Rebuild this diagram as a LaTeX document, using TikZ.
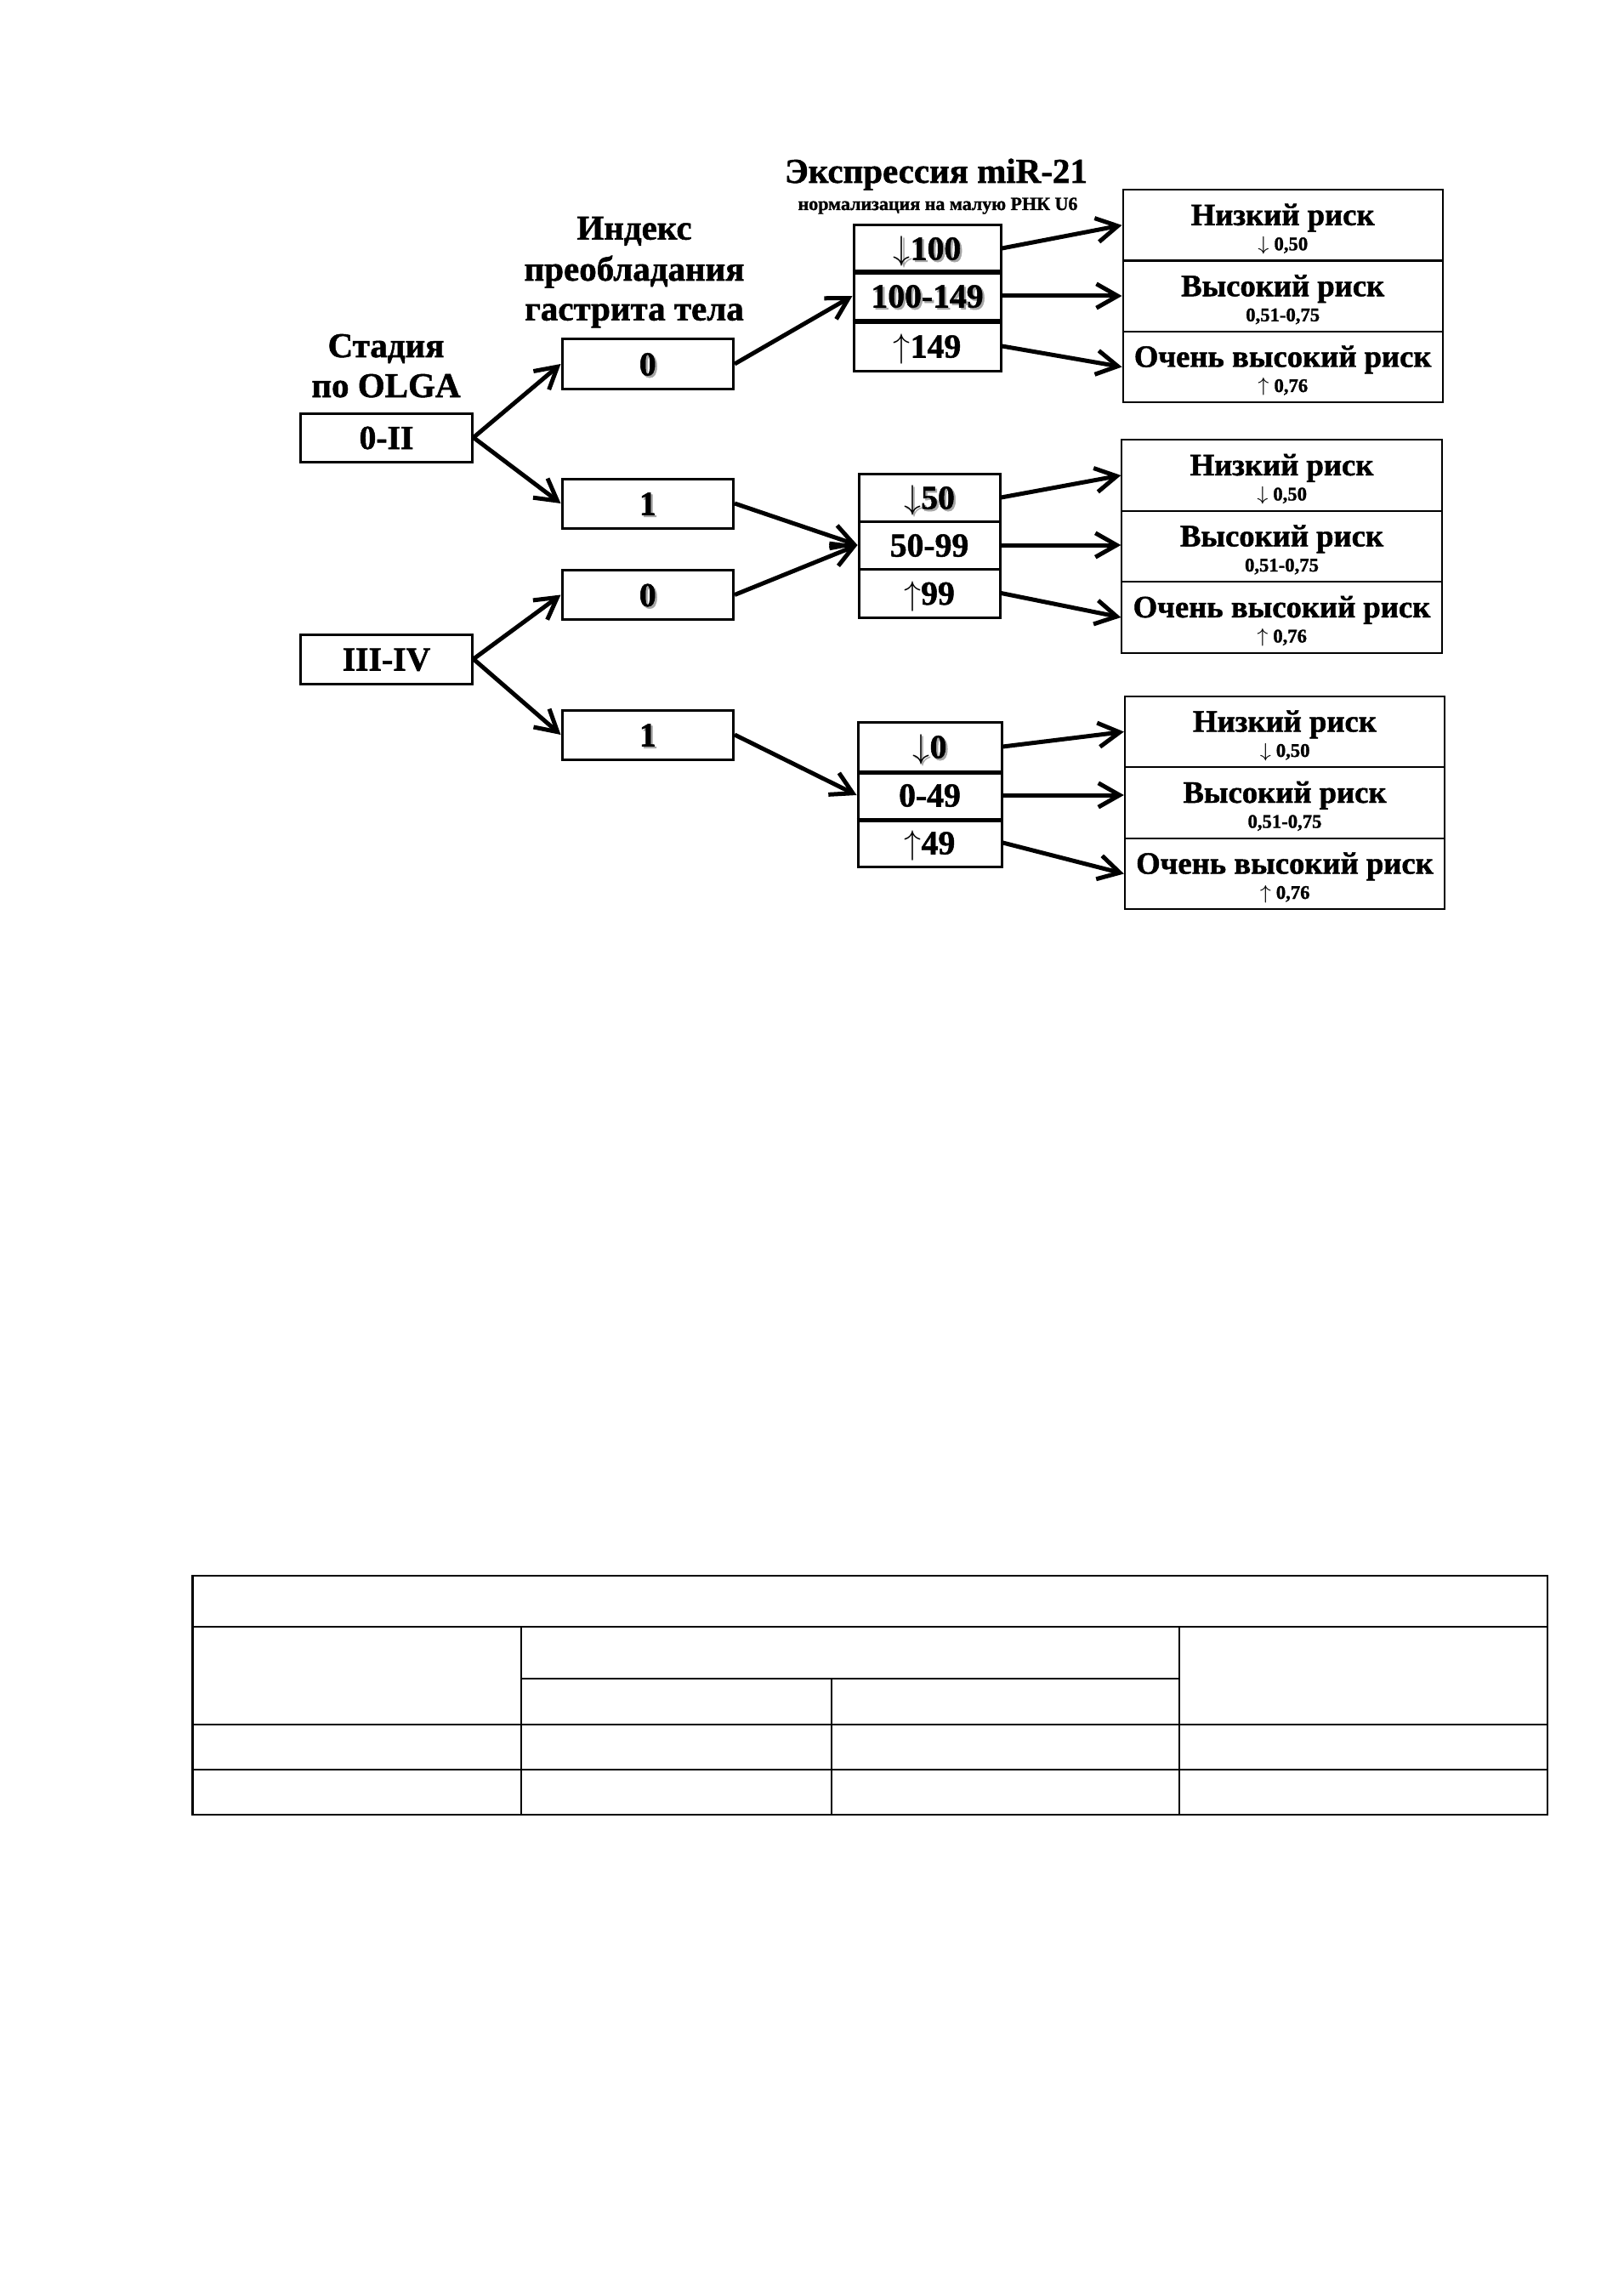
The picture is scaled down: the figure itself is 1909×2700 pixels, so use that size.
\documentclass[tikz,border=0pt]{standalone}
\usepackage{fontspec}
\setmainfont{Liberation Serif}[BoldFeatures={FakeBold=1.3}]
\usetikzlibrary{arrows.meta}
\newcommand{\sh}[1]{\makebox[0pt][l]{\hspace*{0.7pt}\raisebox{-0.7pt}{\textcolor{black!35}{#1}}}#1}
\newcommand{\dn}{$\downarrow$}
\newcommand{\upa}{$\uparrow$}
\begin{document}
\begin{tikzpicture}[x=0.3pt,y=-0.3pt,
  hdr/.style={font=\fontsize{12.3}{14}\selectfont\bfseries, inner sep=0pt, anchor=base},
  subhdr/.style={font=\fontsize{6.6}{8}\selectfont\bfseries, inner sep=0pt, anchor=base},
  lvl/.style={draw, line width=0.9pt, inner sep=0pt, text height=8.1pt, text depth=0pt,
    font=\fontsize{11.9}{13}\selectfont\bfseries},
  riskbox/.style={draw, line width=0.6pt, inner sep=0pt, minimum width=112.9pt, minimum height=25.1pt},
  riskmain/.style={font=\fontsize{11}{13}\selectfont\bfseries, inner sep=0pt, anchor=base},
  risksmall/.style={font=\fontsize{6.8}{8}\selectfont\bfseries, inner sep=0pt, anchor=base},
  arr/.style={-{Straight Barb[length=7.5pt,width=8.5pt]}, line width=1.5pt},
  thicksep/.style={line width=1.6pt},
  tabh/.style={line width=0.75pt},
  tabv/.style={line width=0.55pt},
]
\useasboundingbox (0,0) rectangle (1909,2700);

% headers
\node[hdr] (title) at (1101,215) {Экспрессия miR-21};
\node[subhdr] (subt) at (1103,247) {нормализация на малую РНК U6};
\node[hdr] (ix1) at (746,281.7) {Индекс};
\node[hdr] (ix2) at (746,330) {преобладания};
\node[hdr] (ix3) at (746,376.7) {гастрита тела};
\node[hdr] (st1) at (454,420) {Стадия};
\node[hdr] (st2) at (454,467) {по OLGA};

% stage boxes
\node[lvl, minimum width=60.5pt, minimum height=17.1pt] (s1) at (454.5,514.5) {0-II};
\node[lvl, minimum width=60.5pt, minimum height=17.4pt] (s2) at (454.5,775) {III-IV};

% index boxes
\node[lvl, minimum width=60.45pt, minimum height=17.4pt] (i1) at (761.75,428) {\sh{0}};
\node[lvl, minimum width=60.45pt, minimum height=17.4pt] (i2) at (761.75,592) {\sh{1}};
\node[lvl, minimum width=60.45pt, minimum height=17.4pt] (i3) at (761.75,699.5) {\sh{0}};
\node[lvl, minimum width=60.45pt, minimum height=17.4pt] (i4) at (761.75,864) {\sh{1}};

% expression stacks
\node[lvl, minimum width=51.9pt, minimum height=16.2pt] (a1) at (1090.5,292) {\sh{\dn100}};
\node[lvl, minimum width=51.9pt, minimum height=17.4pt] (a2) at (1090.5,348) {\sh{100-149}};
\node[lvl, minimum width=51.9pt, minimum height=18pt] (a3) at (1090.5,407) {\upa149};
\draw[thicksep] (a1.south west) -- (a1.south east);
\draw[thicksep] (a2.south west) -- (a2.south east);

\node[lvl, minimum width=49.8pt, minimum height=16.8pt] (b1) at (1093,585) {\sh{\dn50}};
\node[lvl, minimum width=49.8pt, minimum height=16.8pt] (b2) at (1093,641) {50-99};
\node[lvl, minimum width=49.8pt, minimum height=17.1pt] (b3) at (1093,697.5) {\upa99};

\node[lvl, minimum width=50.7pt, minimum height=17.4pt] (c1) at (1093.5,878) {\sh{\dn0}};
\node[lvl, minimum width=50.7pt, minimum height=16.8pt] (c2) at (1093.5,935) {0-49};
\node[lvl, minimum width=50.7pt, minimum height=16.8pt] (c3) at (1093.5,991) {\upa49};
\draw[thicksep] (c1.south west) -- (c1.south east);
\draw[thicksep] (c2.south west) -- (c2.south east);

% risk boxes
\foreach \g/\cx/\ya/\yb/\yc in {1/1508.7/264.8/348.3/431.5, 2/1507.5/559/642.5/726, 3/1511/860.5/944/1027.5}{
  \node[riskbox] (r\g1) at (\cx,\ya) {};
  \node[riskbox] (r\g2) at (\cx,\yb) {};
  \node[riskbox] (r\g3) at (\cx,\yc) {};
  \node[riskmain] (r\g1t) at (r\g1.center) {Низкий риск};
  \node[risksmall] (r\g1s) at ([yshift=-8.85pt]r\g1.center) {\dn\ 0,50};
  \node[riskmain] (r\g2t) at (r\g2.center) {Высокий риск};
  \node[risksmall] (r\g2s) at ([yshift=-8.85pt]r\g2.center) {0,51-0,75};
  \node[riskmain] (r\g3t) at (r\g3.center) {Очень высокий риск};
  \node[risksmall] (r\g3s) at ([yshift=-8.85pt]r\g3.center) {\upa\ 0,76};
}

% connectors
\draw[arr] (s1.east) -- (i1.west);
\draw[arr] (s1.east) -- (i2.west);
\draw[arr] (s2.east) -- (i3.west);
\draw[arr] (s2.east) -- (i4.west);
\draw[arr] (i1.east) -- (a2.west);
\draw[arr] (i2.east) -- (b2.west);
\draw[arr] (i3.east) -- (b2.west);
\draw[arr] (i4.east) -- (c2.west);
\draw[arr] (a1.east) -- (r11.west);
\draw[arr] (a2.east) -- (a2.east -| r12.west);
\draw[arr] (a3.east) -- (r13.west);
\draw[arr] (b1.east) -- (r21.west);
\draw[arr] (b2.east) -- (b2.east -| r22.west);
\draw[arr] (b3.east) -- (r23.west);
\draw[arr] (c1.east) -- (r31.west);
\draw[arr] (c2.east) -- (c2.east -| r32.west);
\draw[arr] (c3.east) -- (r33.west);

% empty table
\draw[tabh] (226.5,1853) rectangle (1820,2134);
\draw[tabh] (226.5,1913) -- (1820,1913);
\draw[tabh] (613,1974) -- (1387,1974);
\draw[tabh] (226.5,2028) -- (1820,2028);
\draw[tabh] (226.5,2081) -- (1820,2081);
\draw[tabv] (613,1913) -- (613,2134);
\draw[tabv] (1387,1913) -- (1387,2134);
\draw[tabv] (978,1974) -- (978,2134);
\end{tikzpicture}
\end{document}
